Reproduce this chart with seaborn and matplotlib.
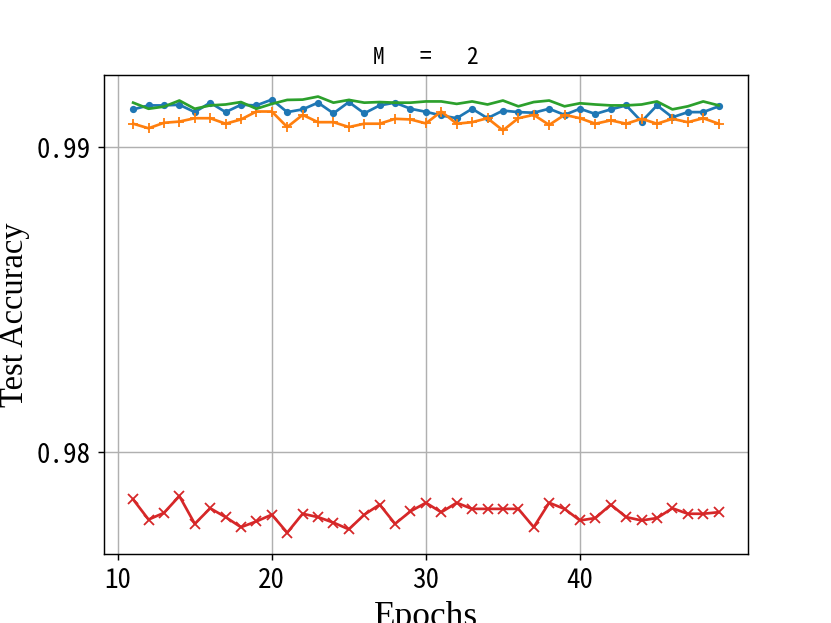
import numpy as np
import pandas as pd
import matplotlib
matplotlib.use("Agg")
import matplotlib.pyplot as plt
import seaborn as sns

epochs = list(range(11, 50))

acc_blue = [0.99125, 0.99138, 0.99138, 0.99140, 0.99116, 0.99147, 0.99116, 0.99140, 0.99138, 0.99157,
            0.99116, 0.99125, 0.99147, 0.99112, 0.99149, 0.99112, 0.99138, 0.99147, 0.99127, 0.99117,
            0.99105, 0.99096, 0.99127, 0.99096, 0.99121, 0.99116, 0.99114, 0.99127, 0.99107, 0.99127,
            0.99110, 0.99125, 0.99138, 0.99085, 0.99138, 0.99099, 0.99116, 0.99116, 0.99135]

acc_orange = [0.99078, 0.99063, 0.99081, 0.99085, 0.99096, 0.99096, 0.99078, 0.99092, 0.99118, 0.99118,
              0.99067, 0.99107, 0.99083, 0.99083, 0.99067, 0.99078, 0.99078, 0.99094, 0.99092, 0.99079,
              0.99118, 0.99078, 0.99083, 0.99096, 0.99056, 0.99096, 0.99107, 0.99074, 0.99107, 0.99096,
              0.99078, 0.99089, 0.99078, 0.99094, 0.99078, 0.99094, 0.99083, 0.99096, 0.99078]

acc_green = [0.99147, 0.99127, 0.99134, 0.99154, 0.99127, 0.99138, 0.99141, 0.99149, 0.99127, 0.99143,
             0.99156, 0.99157, 0.99167, 0.99147, 0.99156, 0.99147, 0.99149, 0.99147, 0.99147, 0.99151,
             0.99151, 0.99143, 0.99151, 0.99141, 0.99154, 0.99135, 0.99149, 0.99154, 0.99135, 0.99145,
             0.99141, 0.99138, 0.99138, 0.99141, 0.99151, 0.99125, 0.99135, 0.99151, 0.99138]

acc_red = [0.97846, 0.97780, 0.97802, 0.97857, 0.97766, 0.97817, 0.97788, 0.97755, 0.97774, 0.97796,
           0.97737, 0.97799, 0.97788, 0.97770, 0.97748, 0.97796, 0.97829, 0.97766, 0.97807, 0.97835,
           0.97804, 0.97835, 0.97815, 0.97815, 0.97815, 0.97815, 0.97755, 0.97835, 0.97815, 0.97777,
           0.97785, 0.97829, 0.97788, 0.97777, 0.97785, 0.97817, 0.97799, 0.97799, 0.97804]

x_ticks = [10, 20, 30, 40]
x_tick_labels = ["10", "20", "30", "40"]
y_ticks = [0.98, 0.99]
y_tick_labels = ["0.98", "0.99"]
title_text = "M   =   2"

mono = ["Noto Sans Mono CJK SC", "Noto Sans CJK SC", "DejaVu Sans Mono"]
serif = ["Liberation Serif", "DejaVu Serif"]

fig, ax = plt.subplots(figsize=(831 / 130, 623 / 130), dpi=130)

series = [
    (acc_blue, "#1f77b4", "."),
    (acc_orange, "#ff7f0e", "+"),
    (acc_green, "#2ca02c", None),
    (acc_red, "#d62728", "x"),
]
for vals, col, mk in series:
    kw = dict(x=epochs, y=vals, color=col, ax=ax, linewidth=1.5)
    if mk is not None:
        kw.update(marker=mk, markersize=6,
                  markeredgecolor=col, markerfacecolor=col, markeredgewidth=1.0)
    sns.lineplot(**kw)

ax.grid(True, color="#b0b0b0", linewidth=0.8)
ax.set_axisbelow(True)
ax.set_yticks(y_ticks)
ax.set_yticklabels(y_tick_labels, family=mono, fontsize=15)
ax.set_xticks(x_ticks)
ax.set_xticklabels(x_tick_labels, family=mono, fontsize=15)
ax.set_xlabel("Epochs", family=serif, fontsize=19.5)
ax.set_ylabel("Test Accuracy", family=serif, fontsize=18)
ax.set_title(title_text, family=mono, fontsize=13)

fig.savefig("out.png", dpi=130)
